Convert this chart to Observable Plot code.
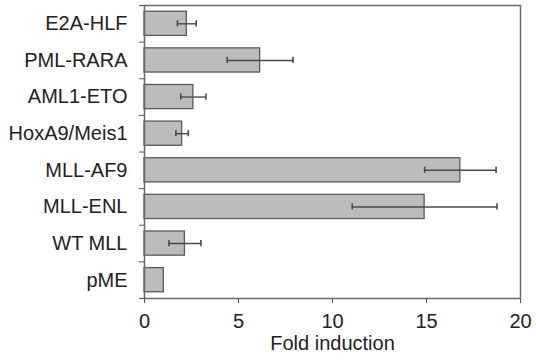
<!DOCTYPE html>
<html>
<head>
<meta charset="utf-8">
<script src="https://cdn.jsdelivr.net/npm/d3@7"></script>
<script src="https://cdn.jsdelivr.net/npm/@observablehq/plot@0.6"></script>
<style>
  html, body { margin: 0; padding: 0; background: #fff; }
  #chart svg { display: block; }
</style>
</head>
<body>
<div id="chart"></div>
<script>
const categories = ["E2A-HLF", "PML-RARA", "AML1-ETO", "HoxA9/Meis1", "MLL-AF9", "MLL-ENL", "WT MLL", "pME"];
const foldMean = [2.25, 6.15, 2.6, 2.0, 16.8, 14.9, 2.15, 1.03];
const foldErr = [0.5, 1.75, 0.67, 0.33, 1.9, 3.85, 0.85, 0];
const xTicks = [0, 5, 10, 15, 20];

const data = categories.map((c, i) => ({
  name: c, i, mean: foldMean[i], err: foldErr[i],
  lo: foldMean[i] - foldErr[i], hi: foldMean[i] + foldErr[i]
}));
const withErr = data.filter(d => d.err > 0);
const pad = 0.17, cap = 0.085;
const font = "Arial, 'Liberation Sans', Helvetica, sans-serif";

const chart = Plot.plot({
  width: 536,
  height: 361,
  marginLeft: 144,
  marginRight: 16,
  marginTop: 5,
  marginBottom: 63,
  style: { fontFamily: font, fontSize: "20px", color: "#222", background: "#fff" },
  x: { domain: [0, 20] },
  y: { domain: [categories.length, 0] },
  marks: [
    Plot.rectX(data, {
      x1: 0, x2: "mean",
      y1: d => d.i + pad, y2: d => d.i + 1 - pad,
      fill: "#bcbcbc", stroke: "#5a5a5a", strokeWidth: 1.3
    }),
    Plot.link(withErr, {
      x1: "lo", x2: "hi",
      y1: d => d.i + 0.5, y2: d => d.i + 0.5,
      stroke: "#4a4a4a", strokeWidth: 1.4
    }),
    Plot.ruleX(withErr, { x: "lo", y1: d => d.i + 0.5 - cap, y2: d => d.i + 0.5 + cap, stroke: "#4a4a4a", strokeWidth: 1.6 }),
    Plot.ruleX(withErr, { x: "hi", y1: d => d.i + 0.5 - cap, y2: d => d.i + 0.5 + cap, stroke: "#4a4a4a", strokeWidth: 1.6 }),
    Plot.frame({ stroke: "#6a6a6a", strokeWidth: 1.5 }),
    Plot.axisY({
      ticks: d3.range(categories.length + 1),
      tickSize: 5, tickFormat: () => "", label: null, stroke: "#555"
    }),
    Plot.axisY({
      ticks: categories.map((c, i) => i + 0.5),
      tickSize: 0, tickPadding: 17,
      tickFormat: v => categories[Math.floor(v)],
      label: null, fill: "#222", fontSize: 20
    }),
    Plot.axisX({
      ticks: xTicks, tickSize: 5, tickPadding: 10, stroke: "#555",
      fill: "#222", fontSize: 20,
      label: "Fold induction", labelAnchor: "center", labelArrow: "none", labelOffset: 51
    })
  ]
});
document.getElementById("chart").appendChild(chart);
</script>
</body>
</html>
